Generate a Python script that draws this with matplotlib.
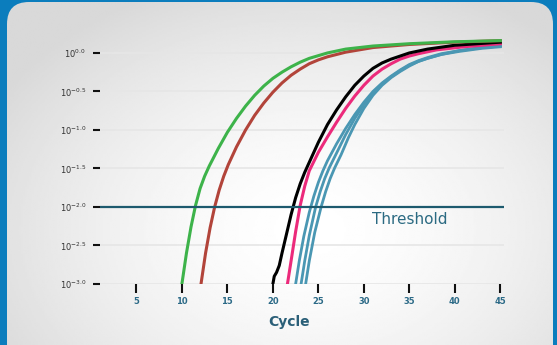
import numpy as np
import matplotlib
matplotlib.use("Agg")
import matplotlib.pyplot as plt
from matplotlib.patches import FancyBboxPatch

# amplification curves: cycle number vs log10(fluorescence)
green_cyc = [10.0, 10.5, 11.0, 11.5, 12.0, 12.5, 13.0, 14.0, 15.0, 16.0, 17.0, 18.0, 19.0, 20.0,
             21.0, 22.0, 23.0, 24.0, 26.0, 28.0, 31.0, 35.0, 40.0, 45.0]
green_log = [-3.0, -2.6, -2.26, -1.98, -1.76, -1.6, -1.47, -1.24, -1.03, -0.85, -0.69, -0.55, -0.43, -0.33,
             -0.25, -0.18, -0.12, -0.07, 0.0, 0.05, 0.09, 0.12, 0.145, 0.16]

brown_cyc = [12.1, 12.6, 13.1, 13.6, 14.1, 14.6, 15.1, 16.0, 17.0, 18.0, 19.0, 20.0, 21.0, 22.0,
             23.0, 24.0, 25.0, 26.0, 28.0, 31.0, 35.0, 40.0, 45.0]
brown_log = [-3.0, -2.6, -2.27, -2.0, -1.78, -1.6, -1.45, -1.22, -1.0, -0.81, -0.65, -0.51, -0.39, -0.29,
             -0.21, -0.14, -0.09, -0.05, 0.01, 0.07, 0.11, 0.14, 0.16]

black_cyc = [20.0, 20.15, 20.4, 20.7, 21.0, 21.5, 22.0, 22.5, 23.0, 23.5, 24.0, 25.0, 26.0, 27.0, 28.0,
             29.0, 30.0, 31.0, 32.0, 33.0, 34.0, 35.0, 37.0, 40.0, 45.0]
black_log = [-3.0, -2.9, -2.85, -2.76, -2.6, -2.35, -2.1, -1.88, -1.7, -1.55, -1.42, -1.16, -0.93, -0.74, -0.57,
             -0.42, -0.3, -0.2, -0.13, -0.08, -0.04, 0.0, 0.05, 0.1, 0.14]

pink_cyc = [21.6, 22.0, 22.5, 23.0, 23.5, 24.0, 25.0, 26.0, 27.0, 28.0, 29.0, 30.0, 31.0, 32.0, 33.0,
            34.0, 35.0, 36.0, 38.0, 41.0, 45.0]
pink_log = [-3.0, -2.7, -2.32, -1.98, -1.73, -1.53, -1.29, -1.09, -0.9, -0.72, -0.56, -0.42, -0.3, -0.21, -0.14,
            -0.08, -0.04, -0.01, 0.04, 0.08, 0.12]

blue_cyc = [
    [22.5, 22.9, 23.4, 24.0, 24.5, 25.0, 25.5, 26.0, 27.0, 28.0, 29.0, 30.0, 31.0, 32.0, 33.0, 34.0,
     35.0, 36.0, 37.0, 38.5, 40.5, 43.0, 45.0],
    [23.1, 23.5, 24.0, 24.7, 25.2, 25.7, 26.2, 27.0, 28.0, 29.0, 30.0, 31.0, 32.0, 33.0, 34.0,
     35.0, 36.0, 37.0, 38.5, 40.5, 43.0, 45.0],
    [23.6, 24.0, 24.6, 25.3, 25.8, 26.3, 26.8, 27.5, 28.3, 29.0, 30.0, 31.0, 32.0, 33.0, 34.0,
     35.0, 36.0, 37.0, 38.5, 40.5, 43.0, 45.0],
]
blue_log = [
    [-3.0, -2.7, -2.38, -2.07, -1.86, -1.68, -1.53, -1.4, -1.18, -0.98, -0.8, -0.64, -0.5, -0.39, -0.3, -0.22,
     -0.15, -0.1, -0.06, -0.01, 0.03, 0.07, 0.09],
    [-3.0, -2.7, -2.37, -2.0, -1.8, -1.63, -1.49, -1.3, -1.06, -0.85, -0.67, -0.52, -0.4, -0.31, -0.23,
     -0.16, -0.11, -0.07, -0.02, 0.02, 0.06, 0.08],
    [-3.0, -2.7, -2.33, -2.0, -1.8, -1.63, -1.49, -1.32, -1.1, -0.93, -0.72, -0.55, -0.42, -0.32, -0.24,
     -0.17, -0.11, -0.07, -0.02, 0.03, 0.07, 0.09],
]

threshold = 10 ** -2.0
x_ticks = [5, 10, 15, 20, 25, 30, 35, 40, 45]
y_exps = [-3.0, -2.5, -2.0, -1.5, -1.0, -0.5, 0.0]

W, H = 557, 345
fig = plt.figure(figsize=(W / 100, H / 100), dpi=100)
fig.patch.set_facecolor("#0b7dbd")

# rounded panel with soft radial shading
bg = fig.add_axes([0, 0, 1, 1])
bg.set_xlim(0, W)
bg.set_ylim(H, 0)
bg.axis("off")
gx, gy = np.meshgrid(np.linspace(0, W, 300), np.linspace(0, H, 200))
r = np.sqrt(((gx - 310) / 330) ** 2 + ((gy - 230) / 240) ** 2)
shade = 1 - 0.13 * np.clip(r, 0, 1.1) ** 1.6
img = bg.imshow(shade, cmap="gray", vmin=0, vmax=1, extent=(0, W, H, 0), aspect="auto")
panel = FancyBboxPatch((7, 2), 546, 420, boxstyle="round,pad=0,rounding_size=22",
                       transform=bg.transData, facecolor="none", edgecolor="none")
bg.add_patch(panel)
img.set_clip_path(panel)

ax = fig.add_axes([100 / W, (H - 284) / H, 404 / W, (284 - 36) / H])
ax.set_facecolor("none")
ax.set_yscale("log")
ax.set_xlim(1, 45.4)
ax.set_ylim(10 ** -3.0, 10 ** 0.22)

ax.grid(axis="y", color="#e6e6e6", lw=1.2)
ax.set_axisbelow(True)

for c, v in zip(blue_cyc, blue_log):
    ax.plot(c, 10 ** np.array(v), color="#4a97b3", lw=2.0)
ax.plot(pink_cyc, 10 ** np.array(pink_log), color="#ec2a7b", lw=2.2)
ax.plot(black_cyc, 10 ** np.array(black_log), color="#000000", lw=2.2)
ax.plot(brown_cyc, 10 ** np.array(brown_log), color="#b2443a", lw=2.2)
ax.plot(green_cyc, 10 ** np.array(green_log), color="#3db34a", lw=2.2)

ax.axhline(threshold, color="#1d5a6e", lw=1.6, zorder=5)
ax.text(35.0, 10 ** -2.16, "Threshold", color="#2b6a82", fontsize=11,
        ha="center", va="center")

for s in ax.spines.values():
    s.set_visible(False)

ax.set_xticks(x_ticks)
ax.set_xticklabels([str(t) for t in x_ticks], fontsize=6, fontweight="bold", color="#2c6a87")
ax.tick_params(axis="x", direction="out", length=6.5, width=1.5, color="#111111", pad=2.5)

ax.set_yticks([10 ** e for e in y_exps])
ax.set_yticklabels([r"$10^{%.1f}$" % e for e in y_exps], fontsize=6, color="#333333")
ax.yaxis.set_minor_locator(matplotlib.ticker.NullLocator())
ax.tick_params(axis="y", direction="out", length=5, width=1.5, color="#111111", pad=5)

fig.text(289 / W, 1 - 322 / H, "Cycle", fontsize=10, fontweight="bold",
         color="#2a5f78", ha="center", va="center")

fig.savefig("out.png", dpi=100, facecolor=fig.get_facecolor())
